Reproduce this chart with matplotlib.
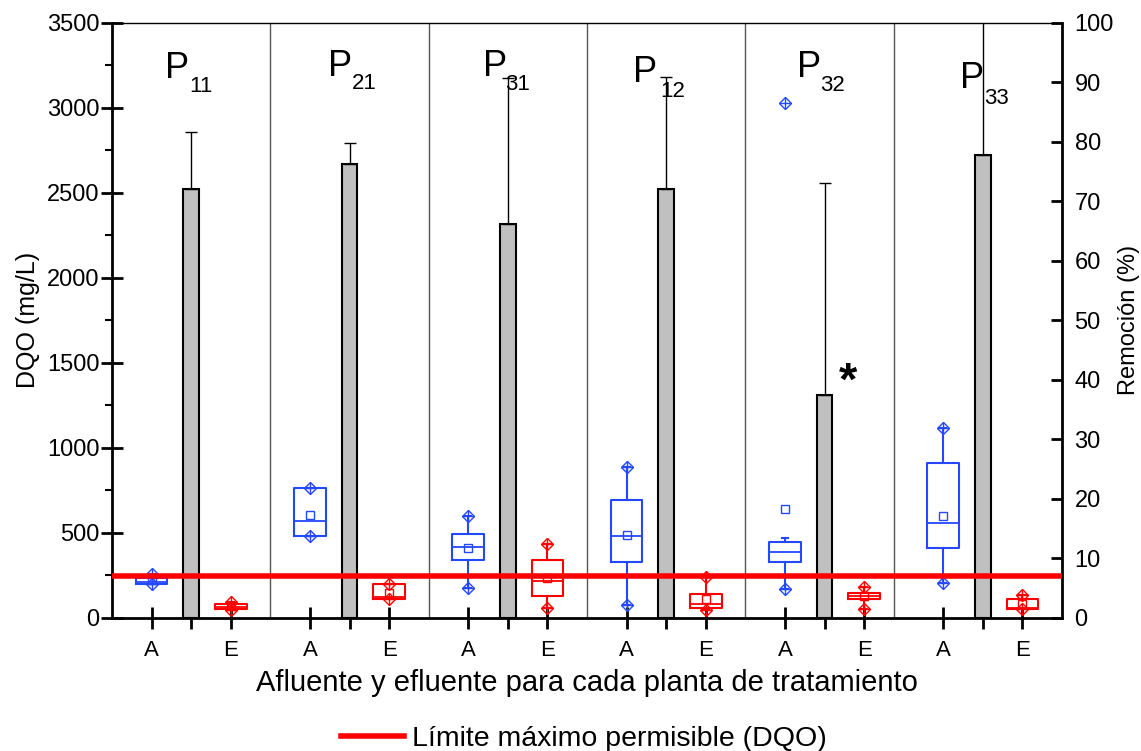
import matplotlib
matplotlib.use('Agg')
import matplotlib.pyplot as plt
import numpy as np

# data: DQO (mg/L) for afluente (A) and efluente (E) of each plant
plants = ["11", "21", "31", "12", "32", "33"]
tick_labels = ["A", "E"] * 6

A_q1 = [196, 481, 339, 329, 328, 410]
A_med = [212, 567, 418, 482, 388, 559]
A_q3 = [235, 763, 492, 691, 447, 912]
A_mean = [222, 604, 408, 486, 638, 600]
A_whislo = [196, 481, 176, 75, 171, 202]
A_whishi = [255, 763, 600, 885, 471, 1118]
A_min = [196, 481, 176, 75, 171, 202]
A_max = [255, 763, 600, 885, 3030, 1118]

E_q1 = [49, 110, 129, 59, 110, 49]
E_med = [62, 124, 218, 79, 128, 58]
E_q3 = [79, 196, 339, 141, 145, 108]
E_mean = [66, 147, 232, 108, 128, 79]
E_whislo = [45, 110, 59, 45, 53, 49]
E_whishi = [90, 196, 432, 241, 182, 132]
E_min = [45, 110, 59, 45, 53, 49]
E_max = [90, 196, 432, 241, 182, 132]

# removal (%) and upper error
removal = [72.0, 76.3, 66.2, 72.1, 37.5, 77.8]
removal_err = [9.6, 3.5, 24.5, 18.8, 35.5, 24.0]

limit_dqo = 245

# plant labels: x of "P", baseline of "P", x offset and baseline of subscript
label_x = [1.17, 3.23, 5.19, 7.08, 9.15, 11.21]
label_y = [3175, 3189, 3186, 3151, 3180, 3116]
sub_dx = [0.30, 0.30, 0.28, 0.34, 0.30, 0.30]
sub_y = [3094, 3110, 3104, 3060, 3098, 3022]
sep_x = [2.5, 4.5, 6.5, 8.5, 10.38]

blue = '#2448ff'
red = '#ff0000'

plt.rcParams['font.family'] = ['Liberation Sans', 'DejaVu Sans']

fig = plt.figure(figsize=(11.41, 7.51), dpi=100)
ax = fig.add_axes([0.0982, 0.1775, 0.8326, 0.7923])
ax2 = ax.twinx()

posA = np.arange(1, 12, 2)
posE = posA + 1
posB = posA + 0.5

# bars on right axis
ax2.bar(posB, removal, width=0.2, color='#c0c0c0', edgecolor='black', linewidth=1.5, zorder=2)
ax2.errorbar(posB, removal, yerr=[np.zeros(6), removal_err], fmt='none',
             ecolor='black', elinewidth=1, capsize=4, capthick=1, zorder=3)
ax2.set_ylim(0, 100)
ax2.set_yticks(np.arange(0, 101, 10))
ax2.set_ylabel("Remoción (%)", fontsize=17, labelpad=3)
ax2.tick_params(axis='y', direction='in', length=8, width=2, labelsize=17, pad=9)
for s in ['left', 'bottom', 'top']:
    ax2.spines[s].set_visible(False)
ax2.spines['right'].set_linewidth(2)

ax.set_zorder(ax2.get_zorder() + 1)
ax.patch.set_visible(False)


def draw_boxes(pos, q1, med, q3, mean, lo, hi, mn, mx, color):
    stats = []
    for i in range(len(pos)):
        stats.append(dict(q1=q1[i], med=med[i], q3=q3[i], mean=mean[i],
                          whislo=lo[i], whishi=hi[i], fliers=[]))
    lp = dict(color=color, linewidth=1.5)
    ax.bxp(stats, positions=pos, widths=0.4, showmeans=True, showfliers=False,
           boxprops=lp, whiskerprops=lp, capprops=lp, capwidths=0.08,
           medianprops=dict(color=color, linewidth=1.3),
           meanprops=dict(marker='s', markersize=6, markerfacecolor='none',
                          markeredgecolor=color, markeredgewidth=1),
           manage_ticks=False)
    # min / max markers (diamond with cross)
    ax.plot(np.r_[pos, pos], np.r_[mn, mx], linestyle='none', marker='D', markersize=6,
            markerfacecolor='none', markeredgecolor=color, markeredgewidth=1, zorder=4)
    ax.plot(np.r_[pos, pos], np.r_[mn, mx], linestyle='none', marker='+', markersize=8,
            markeredgecolor=color, markeredgewidth=1, zorder=4)


draw_boxes(posA, A_q1, A_med, A_q3, A_mean, A_whislo, A_whishi, A_min, A_max, blue)
draw_boxes(posE, E_q1, E_med, E_q3, E_mean, E_whislo, E_whishi, E_min, E_max, red)

lim_line = ax.axhline(limit_dqo, color=red, linewidth=4, zorder=5,
                      label="Límite máximo permisible (DQO)")

for xs in sep_x:
    ax.axvline(xs, color='#555555', linewidth=1, zorder=1)

for i, p in enumerate(plants):
    ax.text(label_x[i], label_y[i], "P", fontsize=26, ha='left', va='baseline')
    ax.text(label_x[i] + sub_dx[i], sub_y[i], p, fontsize=16, ha='left', va='baseline')

ax.text(9.8, 1380, "*", fontsize=34, fontweight='bold', ha='center', va='center')

ax.set_xlim(0.5, 12.5)
ax.set_ylim(0, 3500)
ax.set_xticks(np.arange(1, 13))
ax.set_xticklabels(tick_labels)
ax.set_xticks(posB, minor=True)
ax.set_yticks(np.arange(0, 3501, 500))
ax.set_yticks(np.arange(250, 3500, 500), minor=True)
ax.tick_params(axis='x', which='major', direction='inout', length=16, width=2, labelsize=16, pad=8)
ax.tick_params(axis='x', which='minor', direction='out', length=8, width=2)
ax.tick_params(axis='y', which='major', direction='inout', length=16, width=2, labelsize=17, pad=1)
ax.tick_params(axis='y', which='minor', direction='out', length=5, width=1.5)
ax.spines['right'].set_visible(False)
ax.spines['left'].set_linewidth(2)
ax.spines['bottom'].set_linewidth(2)
ax.spines['top'].set_linewidth(1)

ax.set_ylabel("DQO (mg/L)", fontsize=18, labelpad=5)
ax.set_xlabel("Afluente y efluente para cada planta de tratamiento", fontsize=21, labelpad=6)

fig.legend(handles=[lim_line], loc='center', bbox_to_anchor=(0.512, 0.016), frameon=False,
           fontsize=20.5, handlelength=2.2, handletextpad=0.3)

fig.savefig("out.png", dpi=100)
